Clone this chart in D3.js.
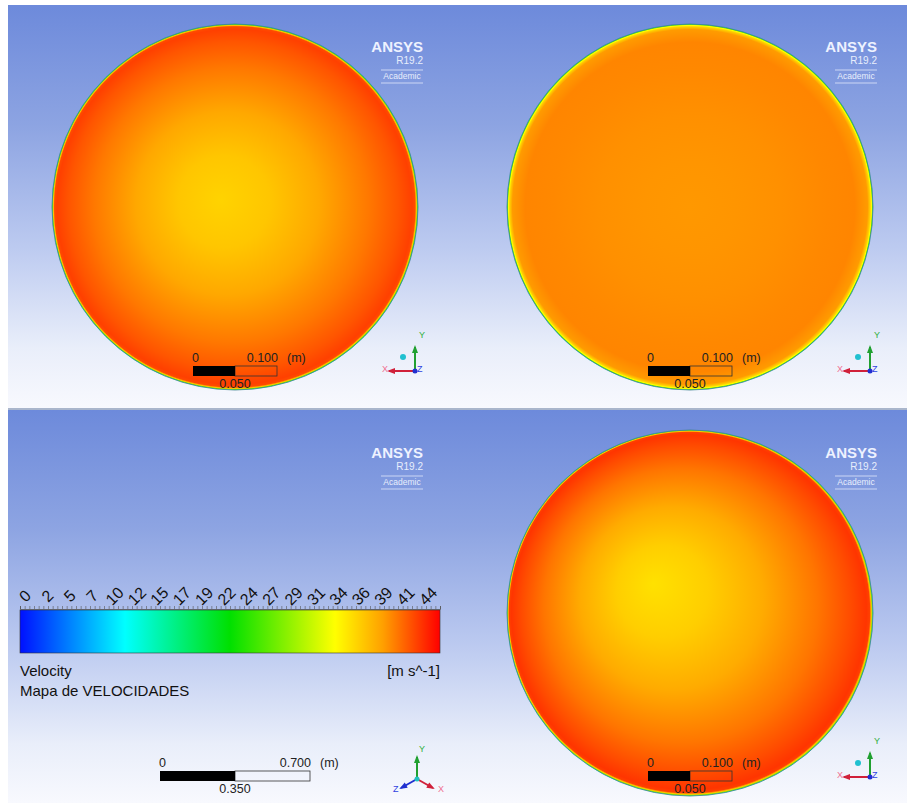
<!DOCTYPE html>
<html><head><meta charset="utf-8">
<script src="https://cdn.jsdelivr.net/npm/d3@7"></script>
<style>html,body{margin:0;padding:0;background:#fff;}svg{display:block;}</style>
</head><body>
<svg id="c" width="907" height="803"></svg>
<script>
// ---- data ----
const legendTicks = ["0","2","5","7","10","12","15","17","19","22","24","27","29","31","34","36","39","41","44"];
const vMin = 0, vMax = 44;
const colorDomain = [0, 11, 22, 33, 38, 44];
const colorRange = ["#0010ff", "#00ffff", "#00e000", "#ffff00", "#ffa000", "#ff0000"];
// radial profile: fraction of radius -> velocity (m/s)
const radialPos = [0, 0.25, 0.5, 0.75, 0.9, 0.97, 0.985, 0.992, 0.997, 1];
const velTopLeft = [35.3, 36.0, 37.6, 39.5, 40.8, 41.6, 41.2, 36, 26, 14];
const velTopRight = [38.3, 38.4, 38.6, 38.9, 39.0, 38.2, 35.5, 33, 26, 14];
const velBottomRight = [34.6, 35.6, 37.4, 39.6, 41.2, 42.0, 41.6, 36, 27, 14];
const scaleSmall = [0, 0.050, 0.100];
const scaleLarge = [0, 0.350, 0.700];

const svg = d3.select("#c");
const defs = svg.append("defs");
const color = d3.scaleLinear().domain(colorDomain).range(colorRange).clamp(true);

// background gradient
const bg = defs.append("linearGradient").attr("id","bg").attr("x1",0).attr("y1",0).attr("x2",0).attr("y2",1);
[[0,"#6d8adb"],[0.3,"#8da4e2"],[0.6,"#bccaf0"],[0.85,"#e9eefa"],[1,"#f8f9fe"]].forEach(s=>bg.append("stop").attr("offset",s[0]).attr("stop-color",s[1]));
svg.append("rect").attr("x",8).attr("y",5).attr("width",899).attr("height",403).attr("fill","url(#bg)");
svg.append("rect").attr("x",8).attr("y",408).attr("width",899).attr("height",2).attr("fill","#aab6cc");
svg.append("rect").attr("x",8).attr("y",410).attr("width",899).attr("height",393).attr("fill","url(#bg)");

// ANSYS logos
function logo(x, y){
  const g = svg.append("g").attr("transform",`translate(${x},${y})`);
  g.append("text").attr("x",0).attr("y",0).attr("text-anchor","end").attr("font-family","Liberation Sans Narrow, Liberation Sans, Arial").attr("font-weight","bold").attr("font-size",15).attr("fill","#eef2ff").text("ANSYS");
  g.append("text").attr("x",0).attr("y",12).attr("text-anchor","end").attr("font-family","Liberation Sans, Arial").attr("font-size",10).attr("fill","#e8eefc").text("R19.2");
  g.append("line").attr("x1",-42).attr("x2",0).attr("y1",18).attr("y2",18).attr("stroke","#dfe6fa").attr("stroke-width",0.8);
  g.append("text").attr("x",-21).attr("y",27).attr("text-anchor","middle").attr("font-family","Liberation Sans Narrow, Liberation Sans, Arial").attr("font-size",8.5).attr("fill","#e8eefc").text("Academic");
  g.append("line").attr("x1",-42).attr("x2",0).attr("y1",31).attr("y2",31).attr("stroke","#dfe6fa").attr("stroke-width",0.8);
}
logo(423, 52); logo(877, 52); logo(423, 458); logo(877, 458);

// contour circles
function disc(id, cx, cy, r, vals, fx, fy){
  const gr = defs.append("radialGradient").attr("id",id).attr("cx","50%").attr("cy","50%").attr("r","50%").attr("fx",fx).attr("fy",fy);
  radialPos.forEach((p,i)=>gr.append("stop").attr("offset",p).attr("stop-color",color(vals[i])));
  svg.append("circle").attr("cx",cx).attr("cy",cy).attr("r",r).attr("fill",`url(#${id})`)
    .attr("stroke","#3f7f8f").attr("stroke-width",1).attr("stroke-opacity",0.8);
}
disc("gTL", 235, 207, 183, velTopLeft, "46%", "48%");
disc("gTR", 690, 207, 183, velTopRight, "50%", "50%");
disc("gBR", 690, 613, 183, velBottomRight, "40%", "42%");

// scale bars
function scaleBar(x0, width, y, vals){
  const s = d3.scaleLinear().domain([vals[0], vals[2]]).range([x0, x0+width]);
  const g = svg.append("g").attr("font-family","Liberation Sans, Arial").attr("font-size",12.5).attr("fill","#222");
  g.append("rect").attr("x",s(vals[1])).attr("y",y).attr("width",s(vals[2])-s(vals[1])).attr("height",10).attr("fill","none").attr("stroke","#333").attr("stroke-width",0.8);
  g.append("rect").attr("x",s(vals[0])).attr("y",y).attr("width",s(vals[1])-s(vals[0])).attr("height",10).attr("fill","#000");
  g.append("text").attr("x",s(vals[0])-1).attr("y",y-4).text("0");
  g.append("text").attr("x",s(vals[2])+1).attr("y",y-4).attr("text-anchor","end").text(d3.format(".3f")(vals[2]));
  g.append("text").attr("x",s(vals[2])+10).attr("y",y-4).text("(m)");
  g.append("text").attr("x",s(vals[1])).attr("y",y+22).attr("text-anchor","middle").text(d3.format(".3f")(vals[1]));
}
scaleBar(193, 84, 366, scaleSmall);
scaleBar(648, 84, 366, scaleSmall);
scaleBar(648, 84, 771, scaleSmall);
scaleBar(160, 150, 771, scaleLarge);

// axis triads
function arrow(g, x1,y1,x2,y2,c){
  g.append("line").attr("x1",x1).attr("y1",y1).attr("x2",x2).attr("y2",y2).attr("stroke",c).attr("stroke-width",2);
  const a = Math.atan2(y2-y1,x2-x1), L=6, W=3;
  const p = [[x2+Math.cos(a)*2,y2+Math.sin(a)*2],[x2-Math.cos(a)*L+Math.sin(a)*W,y2-Math.sin(a)*L-Math.cos(a)*W],[x2-Math.cos(a)*L-Math.sin(a)*W,y2-Math.sin(a)*L+Math.cos(a)*W]];
  g.append("path").attr("d","M"+p.map(q=>q.join(",")).join("L")+"Z").attr("fill",c);
}
function triadFront(ox, oy){
  const g = svg.append("g").attr("font-family","Liberation Sans, Arial").attr("font-size",9);
  arrow(g, ox, oy, ox-26, oy, "#d0203a");
  arrow(g, ox, oy, ox, oy-24, "#20a030");
  g.append("circle").attr("cx",ox).attr("cy",oy).attr("r",2.5).attr("fill","#2030d0");
  g.append("circle").attr("cx",ox-12).attr("cy",oy-14).attr("r",3).attr("fill","#20c0d0");
  g.append("text").attr("x",ox+4).attr("y",oy-33).attr("fill","#30b040").text("Y");
  g.append("text").attr("x",ox-33).attr("y",oy+1).attr("fill","#f07090").text("X");
  g.append("text").attr("x",ox+2).attr("y",oy+1).attr("fill","#3040e0").text("Z");
}
triadFront(415, 371);
triadFront(870, 371);
triadFront(870, 777);
(function(){
  const ox=417, oy=779;
  const g = svg.append("g").attr("font-family","Liberation Sans, Arial").attr("font-size",9);
  arrow(g, ox, oy, ox, oy-22, "#20a030");
  arrow(g, ox, oy, ox-16, oy+9, "#2030d0");
  arrow(g, ox, oy, ox+16, oy+9, "#d0203a");
  g.append("circle").attr("cx",ox).attr("cy",oy).attr("r",2.5).attr("fill","#20c0c0");
  g.append("text").attr("x",ox+2).attr("y",oy-27).attr("fill","#30b040").text("Y");
  g.append("text").attr("x",ox-24).attr("y",oy+13).attr("fill","#3040e0").text("Z");
  g.append("text").attr("x",ox+21).attr("y",oy+13).attr("fill","#f07090").text("X");
})();

// legend
const lx = d3.scaleLinear().domain([vMin, vMax]).range([20, 440]);
const lg = defs.append("linearGradient").attr("id","leg").attr("x1",0).attr("x2",1).attr("y1",0).attr("y2",0);
colorDomain.forEach(v=>lg.append("stop").attr("offset",(v-vMin)/(vMax-vMin)).attr("stop-color",color(v)));
svg.append("rect").attr("x",lx(vMin)).attr("y",610).attr("width",lx(vMax)-lx(vMin)).attr("height",43).attr("fill","url(#leg)").attr("stroke","#333").attr("stroke-width",0.6);
const tickAxis = d3.axisTop(lx).tickValues(d3.range(vMin, vMax+0.001, (vMax-vMin)/90)).tickSize(3).tickFormat("");
const ta = svg.append("g").attr("transform","translate(0,609)").call(tickAxis);
ta.selectAll("line").attr("stroke","#555").attr("stroke-width",0.6);
ta.select(".domain").attr("stroke","#555").attr("stroke-width",0.8);
const lp = d3.scalePoint().domain(legendTicks).range([25, 428]);
svg.append("g").selectAll("text").data(legendTicks).join("text")
  .attr("x", d=>lp(d)).attr("y", 596)
  .attr("transform", d=>"rotate(-45," + lp(d) + ",596)")
  .attr("text-anchor","middle").attr("dy","0.35em")
  .attr("font-family","Liberation Sans, Arial").attr("font-size",16).attr("fill","#111")
  .text(d=>d);
svg.append("text").attr("x",20).attr("y",676).attr("font-family","Liberation Sans, Arial").attr("font-size",15).attr("fill","#111").text("Velocity");
svg.append("text").attr("x",440).attr("y",676).attr("text-anchor","end").attr("font-family","Liberation Sans, Arial").attr("font-size",15).attr("fill","#111").text("[m s^-1]");
svg.append("text").attr("x",20).attr("y",696).attr("font-family","Liberation Sans, Arial").attr("font-size",15).attr("fill","#111").text("Mapa de VELOCIDADES");
</script>
</body></html>
